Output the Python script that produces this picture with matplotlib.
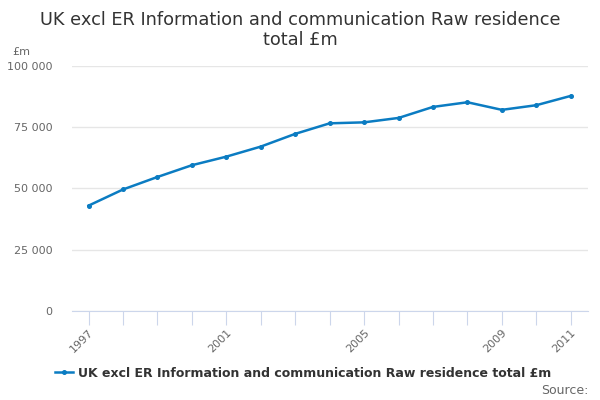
import matplotlib
matplotlib.use('Agg')
import matplotlib.pyplot as plt
from matplotlib.ticker import FuncFormatter, MultipleLocator

# Data
years = [1997, 1998, 1999, 2000, 2001, 2002, 2003, 2004,
         2005, 2006, 2007, 2008, 2009, 2010, 2011]
values = [43000, 49600, 54700, 59500, 63000, 67100, 72300, 76600,
          77000, 78800, 83300, 85200, 82100, 84000, 87800]
labelled_years = [1997, 2001, 2005, 2009, 2011]
series_name = "UK excl ER Information and communication Raw residence total £m"

line_color = '#0b7cc2'
grid_color = '#e6e6e6'
axis_color = '#ccd6eb'
text_gray = '#666666'

fig = plt.figure(figsize=(6, 4), dpi=100)
ax = fig.add_axes([0.12, 0.2225, 0.86, 0.6125])

ax.plot(years, values, color=line_color, linewidth=1.8, marker='o', markersize=2.6,
        label=series_name)

ax.set_xlim(years[0] - 0.48, years[-1] + 0.5)
ax.set_ylim(0, 100000)
ax.yaxis.set_major_locator(MultipleLocator(25000))
ax.yaxis.set_major_formatter(FuncFormatter(lambda v, p: f"{int(v):,}".replace(',', ' ')))
ax.grid(axis='y', color=grid_color, linewidth=1)
ax.set_axisbelow(True)

ax.set_xticks(years)
ax.set_xticklabels([str(y) if y in labelled_years else '' for y in years],
                   rotation=45, ha='right', rotation_mode='anchor')
ax.tick_params(axis='x', length=10, color=axis_color, labelsize=8, labelcolor=text_gray, pad=2)
ax.tick_params(axis='y', length=0, labelsize=8, labelcolor=text_gray, pad=14)

for s in ['top', 'right', 'left']:
    ax.spines[s].set_visible(False)
ax.spines['bottom'].set_color(axis_color)

fig.text(0.5, 0.925, "UK excl ER Information and communication Raw residence\ntotal £m",
         ha='center', va='center', fontsize=12.8, color='#333333', linespacing=1.15)
fig.text(0.02, 0.87, "£m", fontsize=8, color=text_gray, ha='left', va='center')

fig.legend(loc='center', bbox_to_anchor=(0.505, 0.067), frameon=False,
           prop={'size': 9, 'weight': 'bold'}, handlelength=1.5, handletextpad=0.4,
           labelcolor='#333333')
fig.text(0.98, 0.025, "Source:", fontsize=9, color=text_gray, ha='right', va='center')

fig.savefig('out.png')
